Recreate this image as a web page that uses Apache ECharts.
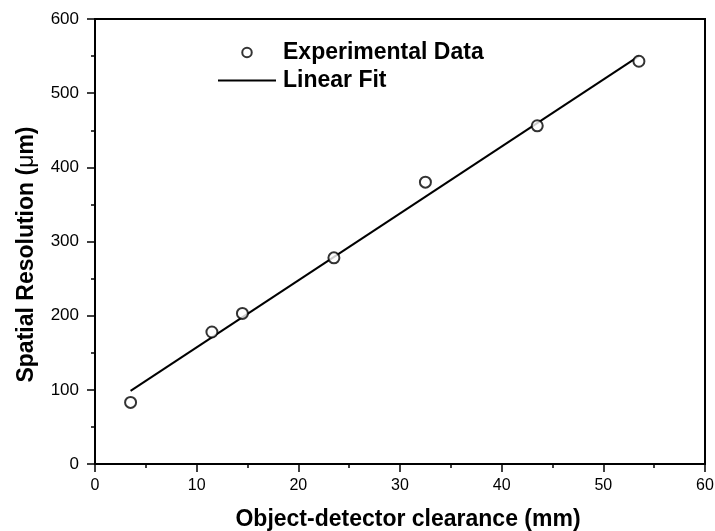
<!DOCTYPE html>
<html>
<head>
<meta charset="utf-8">
<script src="https://cdn.jsdelivr.net/npm/echarts@6/dist/echarts.min.js"></script>
<style>html,body{margin:0;padding:0;background:#fff;}#c{width:715px;height:531px;}</style>
</head>
<body>
<div id="c"></div>
<script>
// Data
const clearance = [3.5, 11.5, 14.5, 23.5, 32.5, 43.5, 53.5];
const resolution = [83, 178, 203, 278, 380, 456, 543];
const fitX = [3.5, 53.5];
const fitY = [98.5, 550];
const xTicks = { min: 0, max: 60, interval: 10 };
const yTicks = { min: 0, max: 600, interval: 100 };

const chart = echarts.init(document.getElementById('c'));
const font = 'Liberation Sans';
chart.setOption({
  animation: false,
  backgroundColor: '#fff',
  grid: { left: 95, right: 10, top: 19, bottom: 67, outerBoundsMode: 'none', containLabel: false,
    show: true, borderColor: '#000', borderWidth: 2, backgroundColor: 'transparent' },
  legend: {
    orient: 'vertical', left: 212, top: 36, itemWidth: 58, itemHeight: 9.5, itemGap: 5,
    textStyle: { fontFamily: font, fontSize: 23, fontWeight: 'bold', color: '#000', padding: [0, 0, 0, 2] },
    data: [
      { name: 'Experimental Data', icon: 'emptyCircle', itemStyle: { color: '#000', borderColor: '#000', borderWidth: 2 } },
      { name: 'Linear Fit', itemStyle: { opacity: 0 }, lineStyle: { color: '#000', width: 2 } }
    ]
  },
  xAxis: {
    type: 'value', min: xTicks.min, max: xTicks.max, interval: xTicks.interval,
    name: 'Object-detector clearance (mm)', nameLocation: 'middle', nameGap: 44,
    nameTextStyle: { fontFamily: font, fontSize: 23, fontWeight: 'bold', color: '#000', padding: [0, 0, 0, 16] },
    axisLine: { lineStyle: { color: '#000', width: 2 } },
    axisTick: { show: true, inside: false, length: 8, lineStyle: { color: '#000', width: 1.5 } },
    minorTick: { show: true, splitNumber: 2, length: 4, lineStyle: { color: '#000', width: 1.5 } },
    axisLabel: { fontFamily: font, fontSize: 16, color: '#000', margin: 14 },
    splitLine: { show: false }
  },
  yAxis: {
    type: 'value', min: yTicks.min, max: yTicks.max, interval: yTicks.interval,
    name: 'Spatial Resolution ({n|μ}m)', nameLocation: 'middle', nameGap: 57,
    nameTextStyle: { fontFamily: font, fontSize: 23, fontWeight: 'bold', color: '#000', padding: [0, 26, 0, 0],
      rich: { n: { fontFamily: font, fontSize: 23, fontWeight: 'normal', color: '#000' } } },
    axisLine: { lineStyle: { color: '#000', width: 2 } },
    axisTick: { show: true, inside: false, length: 8, lineStyle: { color: '#000', width: 1.5 } },
    minorTick: { show: true, splitNumber: 2, length: 4, lineStyle: { color: '#000', width: 1.5 } },
    axisLabel: { fontFamily: font, fontSize: 17, color: '#000', margin: 16 },
    splitLine: { show: false }
  },
  series: [
    {
      name: 'Linear Fit', type: 'line', symbol: 'none',
      data: fitX.map((x, i) => [x, fitY[i]]),
      lineStyle: { color: '#000', width: 2 }, itemStyle: { color: '#000' }, z: 2
    },
    {
      name: 'Experimental Data', type: 'scatter', symbol: 'emptyCircle', symbolSize: 11,
      data: clearance.map((x, i) => [x, resolution[i]]),
      itemStyle: { color: '#000', borderColor: '#000', borderWidth: 2 }, z: 3
    }
  ]
});
</script>
</body>
</html>
